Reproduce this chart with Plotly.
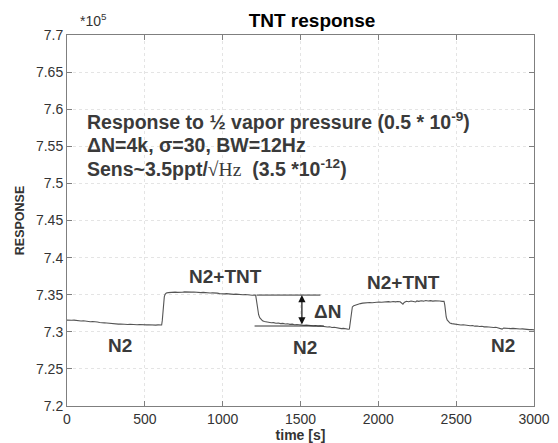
import plotly.graph_objects as go

# ---- data (response in units of 1e5) ----
time_s = [0, 15, 30, 45, 60, 75, 90, 105, 120, 135, 150, 165, 180, 195, 210, 225, 240, 255, 270, 285,
          300, 315, 330, 345, 360, 375, 390, 405, 420, 435, 450, 465, 480, 495, 510, 525, 540, 555, 570, 585,
          600, 608,
          612, 616, 620, 625, 630, 638, 650,
          665, 680, 695, 710, 725, 740, 755, 770, 785, 800, 815, 830, 845, 860, 875, 890, 905, 920, 935, 950,
          965, 980, 995, 1010, 1025, 1040, 1055, 1070, 1085, 1100, 1115, 1130, 1145, 1160, 1175, 1190, 1205, 1212,
          1216, 1220, 1225, 1231, 1238, 1246, 1256, 1268, 1282, 1297,
          1312, 1327, 1342, 1357, 1372, 1387, 1402, 1417, 1432, 1447, 1462, 1477, 1492, 1507, 1522, 1537, 1552,
          1567, 1582, 1597, 1612, 1627, 1642, 1657, 1672, 1687, 1702, 1717, 1732, 1747, 1762, 1777, 1792, 1807, 1814,
          1818, 1822, 1827, 1833, 1842, 1855, 1870, 1885, 1900,
          1915, 1930, 1945, 1960, 1975, 1990, 2005, 2020, 2035, 2050, 2065, 2080, 2095, 2110, 2125, 2140, 2150,
          2158, 2166, 2180, 2195, 2210, 2225, 2240, 2248, 2260, 2275, 2290, 2305, 2320, 2335, 2350, 2365, 2380,
          2395, 2410, 2422,
          2427, 2431, 2436, 2442, 2450, 2460, 2472, 2485,
          2500, 2515, 2530, 2545, 2560, 2575, 2590, 2605, 2620, 2635, 2650, 2665, 2680, 2695, 2710, 2725, 2740,
          2755, 2770, 2785, 2795, 2805, 2820, 2835, 2850, 2865, 2880, 2895, 2910, 2925, 2940, 2955, 2970, 2985, 3000]

response = [7.3158, 7.3161, 7.3155, 7.3157, 7.3150, 7.3152, 7.3146, 7.3148, 7.3141, 7.3143, 7.3136, 7.3138,
            7.3130, 7.3132, 7.3125, 7.3127, 7.3120, 7.3118, 7.3114, 7.3116, 7.3109, 7.3111, 7.3104, 7.3106,
            7.3100, 7.3103, 7.3098, 7.3102, 7.3097, 7.3101, 7.3096, 7.3099, 7.3094, 7.3098, 7.3093, 7.3096,
            7.3091, 7.3094, 7.3090, 7.3093, 7.3091, 7.3092,
            7.3150, 7.3280, 7.3400, 7.3470, 7.3505, 7.3522, 7.3528,
            7.3532, 7.3528, 7.3535, 7.3531, 7.3537, 7.3533, 7.3538, 7.3534, 7.3539, 7.3535, 7.3537, 7.3531,
            7.3534, 7.3528, 7.3532, 7.3526, 7.3529, 7.3522, 7.3525, 7.3518, 7.3521, 7.3515, 7.3518, 7.3511,
            7.3514, 7.3508, 7.3511, 7.3505, 7.3508, 7.3502, 7.3505, 7.3499, 7.3502, 7.3496, 7.3499, 7.3493,
            7.3495, 7.3492,
            7.3440, 7.3360, 7.3290, 7.3230, 7.3190, 7.3165, 7.3148, 7.3138, 7.3132, 7.3128,
            7.3121, 7.3124, 7.3116, 7.3119, 7.3110, 7.3113, 7.3105, 7.3108, 7.3100, 7.3103, 7.3095, 7.3098,
            7.3091, 7.3094, 7.3087, 7.3090, 7.3084, 7.3087, 7.3080, 7.3083, 7.3076, 7.3080, 7.3072, 7.3068,
            7.3064, 7.3067, 7.3058, 7.3061, 7.3052, 7.3048, 7.3043, 7.3046, 7.3038, 7.3035, 7.3037,
            7.3100, 7.3220, 7.3300, 7.3335, 7.3350, 7.3362, 7.3372, 7.3380, 7.3386,
            7.3392, 7.3389, 7.3395, 7.3392, 7.3398, 7.3395, 7.3401, 7.3398, 7.3404, 7.3400, 7.3406, 7.3402,
            7.3408, 7.3403, 7.3409, 7.3404, 7.3390, 7.3372, 7.3395, 7.3412, 7.3406, 7.3414, 7.3408, 7.3402,
            7.3416, 7.3410, 7.3418, 7.3413, 7.3421, 7.3415, 7.3420, 7.3413, 7.3417, 7.3411, 7.3415, 7.3410,
            7.3412,
            7.3360, 7.3270, 7.3200, 7.3160, 7.3135, 7.3118, 7.3110, 7.3104,
            7.3100, 7.3096, 7.3092, 7.3094, 7.3087, 7.3090, 7.3081, 7.3084, 7.3076, 7.3079, 7.3071, 7.3074,
            7.3066, 7.3069, 7.3062, 7.3065, 7.3058, 7.3061, 7.3054, 7.3048, 7.3036, 7.3050, 7.3046, 7.3049,
            7.3043, 7.3046, 7.3040, 7.3044, 7.3037, 7.3040, 7.3033, 7.3036, 7.3029, 7.3031, 7.3026]

x_ticks = [0, 500, 1000, 1500, 2000, 2500, 3000]
y_ticks = [7.2, 7.25, 7.3, 7.35, 7.4, 7.45, 7.5, 7.55, 7.6, 7.65, 7.7]
y_tick_labels = ["7.2", "7.25", "7.3", "7.35", "7.4", "7.45", "7.5", "7.55", "7.6", "7.65", "7.7"]

# phase labels
phase_t = [339, 1015, 1530, 2163, 2802]
phase_v = [7.2822, 7.3743, 7.2790, 7.3662, 7.2810]
phase_txt = ["N2", "N2+TNT", "N2", "N2+TNT", "N2"]

# delta-N markers
dn_top = 7.3495
dn_bottom = 7.3078
dn_top_span = [1218, 1628]
dn_bottom_span = [1205, 1650]
dn_arrow_t = 1509

info_lines = ["<b>Response to ½ vapor pressure (0.5 * 10<sup>-9</sup>)</b>",
              "<b>ΔN=4k, σ=30, BW=12Hz</b>",
              "<b>Sens~3.5ppt/</b><span style=\"font-family:'Liberation Serif'\">√Hz</span><b>  (3.5 *10<sup>-12</sup>)</b>"]
info_t = 114
info_v = [7.5845, 7.5518, 7.5208]

FONT = "Arial, 'Liberation Sans', sans-serif"
TXT = "#3a3a3a"

fig = go.Figure()
fig.add_trace(go.Scatter(x=time_s, y=response, mode="lines",
                         line=dict(color="#555555", width=1.1), showlegend=False, hoverinfo="skip"))
fig.add_trace(go.Scatter(x=dn_top_span, y=[dn_top, dn_top], mode="lines",
                         line=dict(color="#333333", width=1), showlegend=False, hoverinfo="skip"))
fig.add_trace(go.Scatter(x=dn_bottom_span, y=[dn_bottom, dn_bottom], mode="lines",
                         line=dict(color="#333333", width=1), showlegend=False, hoverinfo="skip"))

annotations = []
annotations.append(dict(x=dn_arrow_t, y=dn_top, ax=dn_arrow_t, ay=dn_bottom, xref="x", yref="y",
                        axref="x", ayref="y", text="", showarrow=True, arrowhead=2, startarrowhead=2,
                        arrowside="end+start", arrowsize=1.2, arrowwidth=1.2, arrowcolor="#111111",
                        standoff=0, startstandoff=0))
annotations.append(dict(x=1573, y=7.3271, xref="x", yref="y", text="<b>ΔN</b>", showarrow=False,
                        xanchor="left", yanchor="middle", font=dict(family=FONT, size=19, color=TXT)))
for t, v, s in zip(phase_t, phase_v, phase_txt):
    annotations.append(dict(x=t, y=v, xref="x", yref="y", text="<b>" + s + "</b>", showarrow=False,
                            xanchor="center", yanchor="middle", font=dict(family=FONT, size=19, color=TXT)))
for s, v in zip(info_lines, info_v):
    annotations.append(dict(x=info_t, y=v, xref="x", yref="y", text=s, showarrow=False,
                            xanchor="left", yanchor="middle", align="left",
                            font=dict(family=FONT, size=19.5, color=TXT)))
annotations.append(dict(x=0.0236, y=1.04, xref="paper", yref="paper", text="*10<sup>5</sup>",
                        showarrow=False, xanchor="left", yanchor="middle",
                        font=dict(family=FONT, size=14, color="#333333")))

axis_common = dict(showline=True, linecolor="#7f7f7f", linewidth=1, mirror="ticks",
                   ticks="inside", ticklen=5, tickcolor="#7f7f7f", automargin=False,
                   showgrid=True, gridcolor="#e4e4e4", griddash="dot", gridwidth=1,
                   zeroline=False, tickfont=dict(family=FONT, size=14, color="#333333"))

fig.update_layout(
    width=558, height=443,
    margin=dict(l=67, r=24, t=35, b=37),
    paper_bgcolor="white", plot_bgcolor="white",
    title=dict(text="<b>TNT response</b>", x=312 / 558, y=1 - 20 / 443, xanchor="center", yanchor="middle",
               xref="container", yref="container",
               font=dict(family=FONT, size=19, color="black")),
    xaxis=dict(range=[0, 3000], tickvals=x_ticks, ticktext=[str(v) for v in x_ticks],
               title=dict(text="<b>time [s]</b>", standoff=2, font=dict(family=FONT, size=14, color="#333333")),
               **axis_common),
    yaxis=dict(range=[7.2, 7.7], tickvals=y_ticks, ticktext=y_tick_labels,
               title=dict(text="<b>RESPONSE</b>", standoff=8, font=dict(family=FONT, size=12.5, color="#333333")),
               **axis_common),
    annotations=annotations,
)

fig.write_html("out.html", config={"displayModeBar": False, "staticPlot": True},
               post_script="document.body.style.margin='0';")
